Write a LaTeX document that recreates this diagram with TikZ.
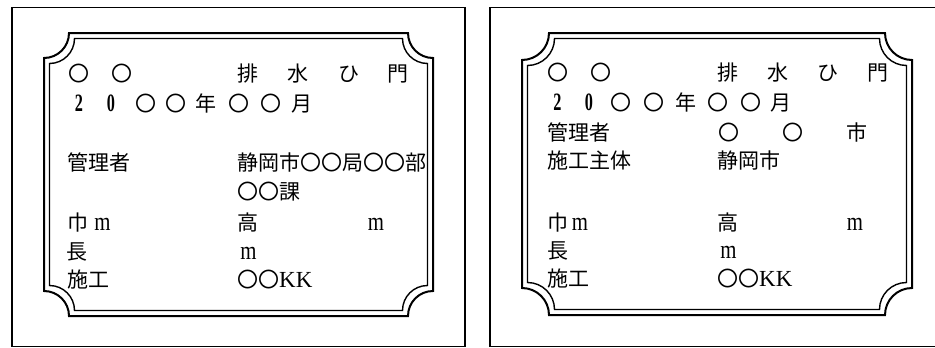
\documentclass[tikz,border=0pt]{standalone}
\usepackage{fontspec}
\setmainfont{Liberation Serif}
\newfontfamily\cjk{Noto Sans CJK JP}
\newcommand{\plateshape}[6]{%
  \draw[#6] ({#1+#5},#2) -- ({#3-#5},#2)
    arc[start angle=180,end angle=90,radius=#5] -- (#3,{#4-#5})
    arc[start angle=270,end angle=180,radius=#5] -- ({#1+#5},#4)
    arc[start angle=0,end angle=-90,radius=#5] -- (#1,{#2+#5})
    arc[start angle=90,end angle=0,radius=#5] -- cycle;}
\tikzset{
  panel/.style={draw=black, line width=1.3pt},
  plateout/.style={draw=black, line width=2pt},
  platein/.style={draw=black, line width=1.4pt},
  jp/.style={font=\cjk\fontsize{21}{21}\selectfont, inner sep=0pt, anchor=base},
  jpw/.style={jp, anchor=base west},
  lat/.style={font=\fontsize{23}{23}\selectfont, inner sep=0pt, anchor=base},
  unit/.style={lat, font=\fontsize{26}{26}\selectfont, xscale=0.8},
  digit/.style={lat, font=\fontsize{25}{25}\selectfont\bfseries, xscale=0.65},
}
\begin{document}
\begin{tikzpicture}[x=1pt,y=-1pt]
\useasboundingbox (0,0) rectangle (935,348);
% panels
\draw[panel] (12,7.5) rectangle (465,346.5);
\draw[panel] (490,7.5) rectangle (945,346.5);
% left plate
\plateshape{44}{33}{433}{316}{25}{plateout}
\plateshape{49.5}{38.5}{427.5}{310.5}{25}{platein}
% right plate
\plateshape{522}{33}{912}{315}{27}{plateout}
\plateshape{527.5}{38.5}{906.5}{309.5}{27}{platein}

% ---- left plate text ----
\node[jp] (la1) at (79,81) {〇};
\node[jp] (la2) at (121.5,81) {〇};
\node[jp] (la3) at (248,81) {排};
\node[jp] (la4) at (298,81) {水};
\node[jp] (la5) at (348.5,81) {ひ};
\node[jp] (la6) at (398,81) {門};
\node[digit] (lb1) at (79,111) {2};
\node[digit] (lb2) at (111,111) {0};
\node[jp] (lb3) at (146,111) {〇};
\node[jp] (lb4) at (176,111) {〇};
\node[jp] (lb5) at (206,111) {年};
\node[jp] (lb6) at (239,111) {〇};
\node[jp] (lb7) at (271,111) {〇};
\node[jp] (lb8) at (301.5,111) {月};
\node[jpw] (lc1) at (67,170) {管理者};
\node[jpw] (lc2) at (237,170) {静岡市〇〇局〇〇部};
\node[jpw] (ld2) at (237,199) {〇〇課};
\node[jp] (le1) at (77.5,230) {巾};
\node[unit] (le2) at (102.5,230) {m};
\node[jp] (le3) at (248,230) {高};
\node[unit] (le4) at (376,230) {m};
\node[jp] (lf1) at (77,259) {長};
\node[unit] (lf2) at (248.5,259) {m};
\node[jpw] (lg1) at (67,287) {施工};
\node[jpw] (lg2) at (237,287) {〇〇\fontspec{Liberation Serif}\fontsize{23}{23}\selectfont KK};

% ---- right plate text ----
\node[jp] (ra1) at (557.5,80) {〇};
\node[jp] (ra2) at (601,80) {〇};
\node[jp] (ra3) at (728,80) {排};
\node[jp] (ra4) at (778,80) {水};
\node[jp] (ra5) at (827.5,80) {ひ};
\node[jp] (ra6) at (878,80) {門};
\node[digit] (rb1) at (557.5,110) {2};
\node[digit] (rb2) at (589,110) {0};
\node[jp] (rb3) at (621,110) {〇};
\node[jp] (rb4) at (653.5,110) {〇};
\node[jp] (rb5) at (686,110) {年};
\node[jp] (rb6) at (717.5,110) {〇};
\node[jp] (rb7) at (751,110) {〇};
\node[jp] (rb8) at (781,110) {月};
\node[jpw] (rc1) at (547,140) {管理者};
\node[jp] (rc2) at (729,140) {〇};
\node[jp] (rc3) at (792.5,140) {〇};
\node[jp] (rc4) at (857,140) {市};
\node[jpw] (rd1) at (547,168) {施工主体};
\node[jpw] (rd2) at (717,168) {静岡市};
\node[jp] (re1) at (557.5,230) {巾};
\node[unit] (re2) at (580,230) {m};
\node[jp] (re3) at (728,230) {高};
\node[unit] (re4) at (855,230) {m};
\node[jp] (rf1) at (557.5,258) {長};
\node[unit] (rf2) at (728.5,258) {m};
\node[jpw] (rg1) at (547,286) {施工};
\node[jpw] (rg2) at (717,286) {〇〇\fontspec{Liberation Serif}\fontsize{23}{23}\selectfont KK};
\end{tikzpicture}
\end{document}
